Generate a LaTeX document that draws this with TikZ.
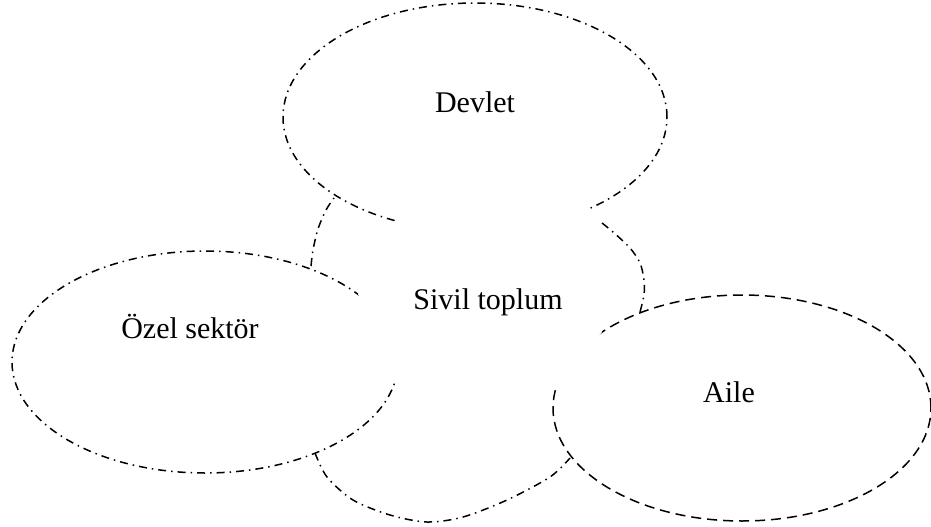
\documentclass[tikz,border=0pt]{standalone}
\usepackage{fontspec}
\setmainfont{Liberation Serif}
\begin{document}
\begin{tikzpicture}[x=1pt,y=-1pt,
  dashdot/.style={line width=1.5pt,dash pattern=on 8pt off 5pt on 1.5pt off 5pt},
  dashline/.style={line width=1.5pt,dash pattern=on 10pt off 6pt},
  lbl/.style={font=\fontsize{30}{35}\selectfont,inner sep=0pt}]
\useasboundingbox (0,0) rectangle (931,527);
% outer ellipses
\coordinate (cdev) at (475,117);
\coordinate (cozel) at (205,362);
\coordinate (caile) at (742,408);
\draw[dashdot] (cdev) ellipse [x radius=192pt, y radius=114pt];
\draw[dashdot] (cozel) ellipse [x radius=193pt, y radius=111pt];
\draw[dashline] (caile) ellipse [x radius=189pt, y radius=113pt];
% white centre region
\fill[white] (398,217) -- (588,209) -- (598,224) -- (602,332) -- (557,386)
  -- (395,382) -- (358,294) -- cycle;
% visible arcs of the central region
\draw[dashdot] plot[smooth] coordinates {(311,266) (313,250) (318,229) (326,210) (334,198)};
\draw[dashdot] plot[smooth] coordinates {(602,223) (613,232) (630,248) (640,263) (644,280) (644,295) (640,312)};
\draw[dashdot] plot[smooth] coordinates {(315,453) (327,477) (353,500) (390,515) (427,522) (463,517) (507,500) (550,477) (570,458)};
% labels
\node[lbl] (devlet) at (475,102) {Devlet};
\node[lbl] (ozel) at (190,326) {Özel sektör};
\node[lbl] (sivil) at (488,302) {Sivil toplum};
\node[lbl] (aile) at (729,392) {Aile};
\end{tikzpicture}
\end{document}
